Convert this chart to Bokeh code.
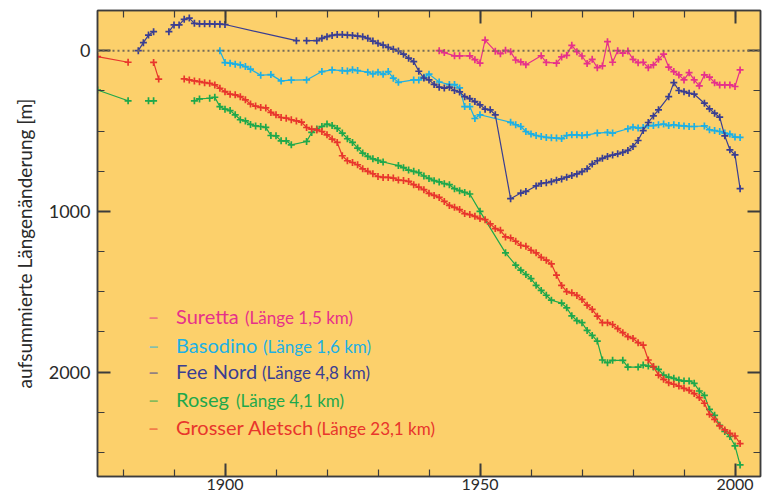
import numpy as np
from bokeh.plotting import figure
from bokeh.models import Range1d, LinearAxis, FixedTicker, Span, Label, Title
from bokeh.embed import file_html
from bokeh.resources import INLINE

# ---------------- data (cumulative length change, m; positive = retreat) ----------------
suretta_years = [1942, 1943, 1945, 1946, 1948, 1949, 1950, 1951, 1953, 1954, 1955, 1956, 1957, 1958, 1959,
                 1962, 1963, 1965, 1966, 1967, 1968, 1969, 1970, 1971, 1972, 1973, 1974, 1975, 1976, 1977,
                 1978, 1979, 1980, 1981, 1982, 1983, 1984, 1985, 1986, 1987, 1988, 1989, 1990, 1991, 1992,
                 1993, 1994, 1995, 1996, 1997, 1998, 1999, 2000, 2001]
suretta_vals = [0, 12, 32, 32, 32, 56, 77, -66, 3, 19, -2, 6, 58, 70, 87,
                32, 73, 78, 39, 29, -33, 6, 33, 80, 54, 106, 95, -56, 72, 0,
                16, 2, 54, 75, 72, 106, 89, 54, 22, 103, 130, 151, 182, 137, 182,
                219, 151, 165, 199, 213, 213, 213, 223, 120]

basodino_years = [1899, 1900, 1901, 1902, 1903, 1904, 1905, 1907, 1909, 1911, 1913, 1916, 1919, 1921, 1923,
                  1924, 1925, 1926, 1928, 1929, 1930, 1931, 1932, 1933, 1934, 1937, 1938, 1939, 1940, 1942,
                  1944, 1945, 1946, 1947, 1948, 1949, 1950, 1956, 1957, 1958, 1959, 1960, 1961, 1962, 1963,
                  1964, 1965, 1966, 1967, 1968, 1969, 1970, 1971, 1973, 1975, 1976, 1979, 1980, 1981, 1982,
                  1983, 1984, 1985, 1986, 1987, 1988, 1989, 1990, 1991, 1992, 1994, 1995, 1996, 1997, 1998,
                  1999, 2000, 2001]
basodino_vals = [0, 74, 78, 84, 89, 99, 115, 153, 149, 188, 183, 182, 130, 120, 124,
                 126, 118, 124, 134, 145, 134, 147, 130, 171, 197, 182, 182, 165, 146, 195,
                 211, 211, 232, 348, 348, 422, 399, 446, 461, 472, 503, 518, 528, 534, 540,
                 542, 544, 547, 528, 524, 524, 528, 524, 513, 509, 513, 486, 476, 482, 478,
                 466, 466, 461, 457, 466, 461, 466, 468, 472, 472, 468, 492, 497, 503, 513,
                 519, 538, 540]

feenord_years = [1883, 1884, 1885, 1886, 1887, 1889, 1890, 1891, 1892, 1893, 1894, 1895, 1896, 1897, 1898,
                 1899, 1900, 1914, 1915, 1916, 1918, 1919, 1920, 1921, 1922, 1923, 1924, 1925, 1926, 1927,
                 1928, 1929, 1930, 1931, 1932, 1933, 1934, 1935, 1936, 1937, 1938, 1939, 1940, 1941, 1942,
                 1943, 1944, 1945, 1946, 1947, 1948, 1949, 1950, 1951, 1952, 1953, 1956, 1958, 1959, 1961,
                 1962, 1963, 1964, 1965, 1966, 1967, 1968, 1969, 1970, 1971, 1972, 1973, 1974, 1975, 1976,
                 1977, 1978, 1979, 1980, 1981, 1982, 1983, 1984, 1985, 1987, 1988, 1989, 1990, 1991, 1992,
                 1994, 1995, 1996, 1997, 1998, 1999, 2000, 2001]
feenord_vals = [0, -50, -97, -118, None, -118, -160, -160, -195, -203, -170, -167, -167, -167, -165,
                -165, -163, -62, None, -62, -62, -77, -87, -95, -100, -100, -97, -95, -91, -87,
                -77, -60, -46, -35, -21, -9, 2, 22, 47, 68, 128, 170, 182, 210, 227,
                233, 227, 248, 257, 286, 298, 317, 337, 364, 368, 399, 921, 886, 876, 842,
                826, 822, 815, 806, 798, 787, 777, 767, 753, 735, 706, 685, 670, 658, 650,
                642, 633, 621, 596, 559, 497, 447, 406, 368, 286, 199, 248, 255, 265, 271,
                327, 362, 389, 414, 530, 617, 648, 859]

roseg_years = [1875, 1881, 1883, 1885, 1886, 1890, 1894, 1895, 1897, 1898, 1899, 1900, 1901, 1902, 1903,
               1904, 1905, 1906, 1907, 1908, 1909, 1910, 1911, 1912, 1913, 1916, 1917, 1918, 1919, 1920,
               1921, 1922, 1923, 1924, 1925, 1926, 1927, 1928, 1929, 1930, 1931, 1934, 1935, 1936, 1937,
               1938, 1939, 1940, 1941, 1942, 1943, 1944, 1945, 1946, 1947, 1948, 1950, 1955, 1957, 1958,
               1959, 1960, 1961, 1962, 1963, 1964, 1966, 1967, 1968, 1969, 1970, 1971, 1972, 1973, 1974,
               1975, 1976, 1978, 1979, 1981, 1982, 1983, 1984, 1985, 1986, 1987, 1988, 1989, 1990, 1991,
               1992, 1993, 1994, 1995, 1996, 1997, 1998, 1999, 2000, 2001]
roseg_vals = [245, 312, None, 312, 312, None, 312, 300, 296, 290, 348, 364, 373, 399, 430,
              437, 459, 468, 472, 477, 528, 530, 561, 561, 586, 565, 509, 488, 472, 457,
              466, 484, 513, 548, 571, 606, 637, 658, 673, 683, 693, 715, 728, 743, 751,
              759, 780, 795, 809, 817, 828, 834, 859, 871, 882, 892, 1000, 1258, 1335, 1366,
              1393, 1418, 1460, 1492, 1522, 1553, 1571, 1600, 1650, 1680, 1693, 1741, 1772, 1807, 1925,
              1942, 1927, 1927, 1969, 1969, 1956, 1963, 1969, 1983, 2019, 2031, 2039, 2050, 2056, 2056,
              2070, 2118, 2145, 2232, 2269, 2331, 2370, 2401, 2460, 2578]

aletsch_years = [1875, 1881, 1883, 1886, 1887, 1890, 1892, 1893, 1894, 1895, 1896, 1897, 1898, 1899, 1900,
                 1901, 1902, 1903, 1904, 1905, 1906, 1907, 1908, 1909, 1910, 1911, 1912, 1913, 1914, 1915,
                 1916, 1917, 1918, 1919, 1920, 1921, 1922, 1923, 1924, 1925, 1926, 1927, 1928, 1929, 1930,
                 1931, 1932, 1933, 1934, 1935, 1936, 1937, 1938, 1939, 1940, 1941, 1942, 1943, 1944, 1945,
                 1946, 1947, 1948, 1949, 1950, 1951, 1952, 1953, 1954, 1955, 1956, 1957, 1958, 1959, 1960,
                 1961, 1962, 1963, 1964, 1965, 1966, 1967, 1968, 1969, 1970, 1971, 1972, 1973, 1974, 1975,
                 1976, 1977, 1978, 1979, 1980, 1981, 1982, 1983, 1984, 1985, 1986, 1987, 1988, 1989, 1990,
                 1991, 1992, 1993, 1994, 1995, 1996, 1997, 1998, 1999, 2000, 2001]
aletsch_vals = [37, 72, None, 73, 177, None, 176, 182, 188, 193, 199, 203, 213, 234, 255,
                271, 275, 286, 306, 332, 345, 353, 356, 384, 399, 416, 420, 430, 437, 445,
                478, 488, 493, 503, 524, 550, 571, 654, 685, 696, 710, 735, 751, 766, 783,
                789, 789, 793, 805, 808, 814, 834, 849, 865, 888, 901, 913, 938, 963, 975,
                989, 1014, 1020, 1031, 1045, 1052, 1078, 1107, 1118, 1159, 1165, 1186, 1211, 1217, 1242,
                1258, 1286, 1304, 1327, 1397, 1461, 1499, 1507, 1523, 1548, 1584, 1610, 1652, 1693, 1693,
                1704, 1730, 1755, 1780, 1791, 1817, 1832, 1925, 1966, 2019, 2045, 2066, 2076, 2087, 2101,
                2114, 2134, 2159, 2194, 2263, 2294, 2335, 2360, 2381, 2398, 2445]

names = ["Suretta", "Basodino", "Fee Nord", "Roseg", "Grosser Aletsch"]
details = ["(Länge 1,5 km)", "(Länge 1,6 km)", "(Länge 4,8 km)", "(Länge 4,1 km)", "(Länge 23,1 km)"]
colors = ["#E6318A", "#1DB0E4", "#3A3E92", "#1EA84B", "#E8362C"]
y_title = "aufsummierte Längenänderung [m]"

x_major = [1900, 1950, 2000]
x_minor = [1880, 1890, 1900, 1910, 1920, 1930, 1940, 1950, 1960, 1970, 1980, 1990, 2000]
x_labels = ["1900", "1950", "2000"]
y_major = [0, 1000, 2000]
y_minor = [-250, 250, 500, 750, 1250, 1500, 1750, 2250, 2500]
y_labels = ["0", "1000", "2000"]

series = [(suretta_years, suretta_vals), (basodino_years, basodino_vals), (feenord_years, feenord_vals),
          (roseg_years, roseg_vals), (aletsch_years, aletsch_vals)]

FONT = "Lato"
BG = "#FCD06B"
AX = "#3c3c3c"
TXT = "#2a2a2a"

p = figure(width=763, height=496, x_range=Range1d(1875, 2005), y_range=Range1d(2650, -250),
           x_axis_type=None, y_axis_type=None,
           output_backend="svg", toolbar_location=None,
           background_fill_color=BG, border_fill_color="white",
           min_border_left=97, min_border_right=3, min_border_top=10, min_border_bottom=20)
p.grid.visible = False
p.outline_line_color = AX
p.outline_line_width = 1.5

bottom = LinearAxis()
left = LinearAxis()
top = LinearAxis()
right = LinearAxis()
p.add_layout(bottom, "below")
p.add_layout(left, "left")
p.add_layout(top, "above")
p.add_layout(right, "right")

for ax in [bottom, top]:
    ax.ticker = FixedTicker(ticks=x_major, minor_ticks=x_minor)
    ax.major_label_overrides = {v: s for v, s in zip(x_major, x_labels)}
for ax in [left, right]:
    ax.ticker = FixedTicker(ticks=y_major, minor_ticks=y_minor)
    ax.major_label_overrides = {v: s for v, s in zip(y_major, y_labels)}

for ax in [bottom, top, left, right]:
    ax.major_tick_in = 13
    ax.major_tick_out = 0
    ax.minor_tick_in = 7
    ax.minor_tick_out = 0
    ax.major_tick_line_color = AX
    ax.major_tick_line_width = 2
    ax.minor_tick_line_color = AX
    ax.minor_tick_line_width = 1.2
    ax.axis_line_color = AX
    ax.axis_line_width = 1.5
    ax.major_label_text_font = FONT
    ax.major_label_text_color = TXT
    ax.major_label_text_font_size = "18px"

bottom.major_label_text_font_size = "16px"
for ax in [top, right]:
    ax.major_label_text_font_size = "1px"
    ax.major_label_text_color = None
    ax.major_label_standoff = 0

bottom.major_label_standoff = 2
left.major_label_standoff = 7

# y axis title, shifted up like the reference
p.add_layout(Title(text=y_title, align="center", offset=31, text_font=FONT, text_font_size="19px",
                   text_font_style="normal", text_color=TXT, standoff=19), "left")

p.add_layout(Span(location=0, dimension="width", line_color="#756b58", line_dash="2 3", line_width=2))

for (yrs, vals), c in zip(series, colors):
    xs = np.array(yrs, dtype=float)
    ys = np.array(vals, dtype=float)
    p.line(xs, ys, line_color=c, line_width=1.2)
    p.scatter(xs, ys, marker="cross", size=7, line_color=c, line_width=1.7)

# legend (text annotations)
row_y = [1652, 1832, 1996, 2170, 2344]
name_offsets = [69, 87, 86, 60, 141]
for name, det, c, yy, off in zip(names, details, colors, row_y, name_offsets):
    p.add_layout(Label(x=1886.0, y=yy, text="–", text_color=c, text_alpha=0.55, text_font=FONT,
                       text_font_size="20px", text_font_style="bold",
                       text_align="center", text_baseline="middle"))
    p.add_layout(Label(x=1890.4, y=yy, text=name, text_color=c, text_font=FONT,
                       text_font_size="20px", text_align="left", text_baseline="middle"))
    p.add_layout(Label(x=1890.4, y=yy, x_offset=off, y_offset=-1, text=det, text_color=c, text_font=FONT,
                       text_font_size="17px", text_align="left", text_baseline="middle"))

open("out.html", "w").write(file_html(p, INLINE))
